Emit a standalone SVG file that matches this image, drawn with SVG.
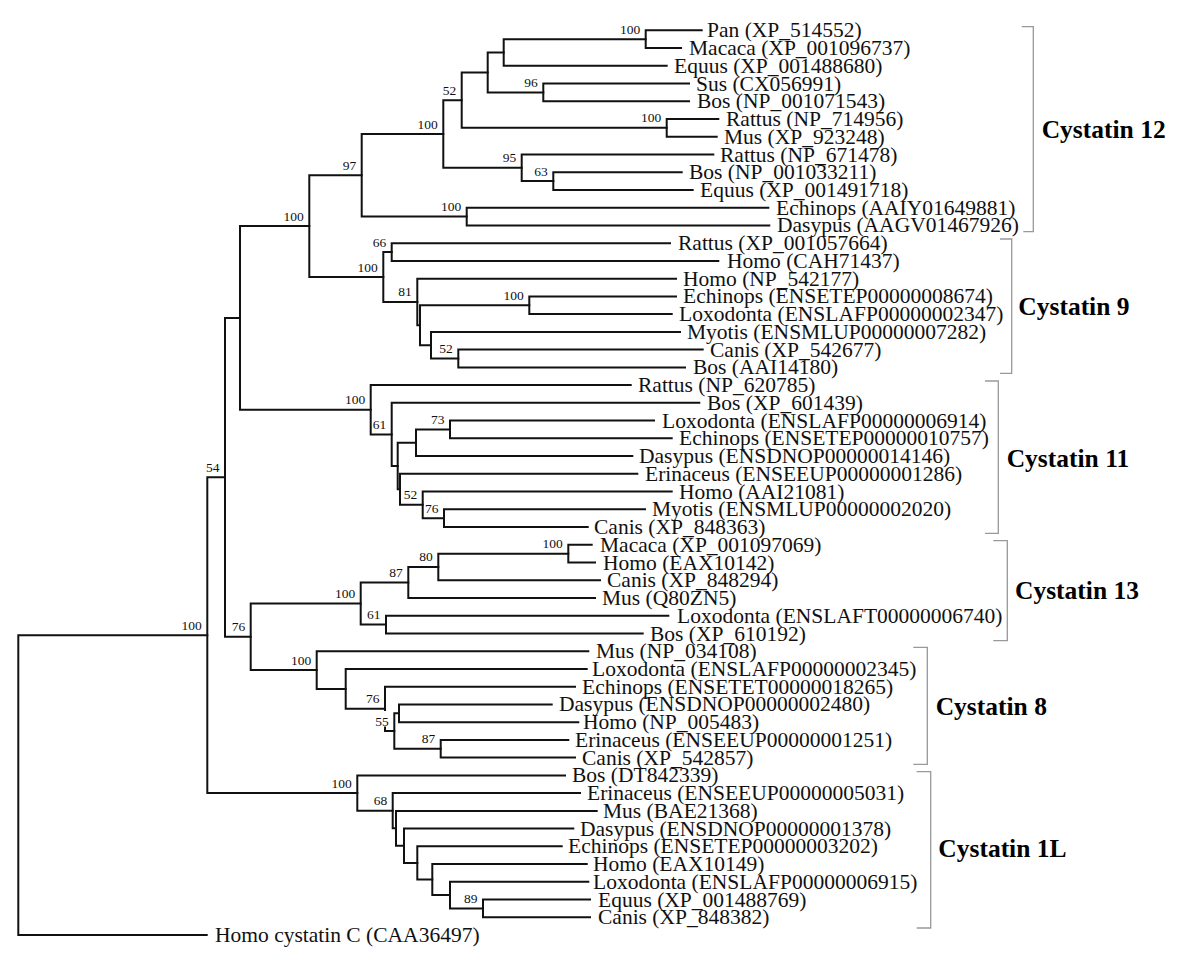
<svg xmlns="http://www.w3.org/2000/svg" width="1200" height="973" viewBox="0 0 1200 973">
<style>
.br{fill:none;stroke:#111;stroke-width:2;stroke-linecap:square}
.bk{fill:none;stroke:#999;stroke-width:1.3}
.lf{font-family:"Liberation Serif","Times New Roman",serif;font-size:21.5px;fill:#111}
.bs{font-family:"Liberation Serif","Times New Roman",serif;font-size:13.5px;fill:#111;text-anchor:end}
.cl{font-family:"Liberation Serif","Times New Roman",serif;font-size:25.5px;font-weight:bold;fill:#000}
</style>
<rect width="1200" height="973" fill="#fff"/>
<g id="connectors">
<path class="br" d="M645.7 30.3V48M645.7 30.3H701.7M645.7 48H681"/>
<path class="br" d="M503.7 39.15V65.8M503.7 39.15H645.7M503.7 65.8H666.7"/>
<path class="br" d="M543.3 83.5V101.3M543.3 83.5H689M543.3 101.3H689"/>
<path class="br" d="M487.7 52.5V92.4M487.7 52.5H503.7M487.7 92.4H543.3"/>
<path class="br" d="M666.7 119V136.7M666.7 119H718.3M666.7 136.7H716.7"/>
<path class="br" d="M461.7 72.45V127.85M461.7 72.45H487.7M461.7 127.85H666.7"/>
<path class="br" d="M553.3 172.2V190M553.3 172.2H681.7M553.3 190H692.7"/>
<path class="br" d="M521.7 154.5V181.1M521.7 154.5H713.3M521.7 181.1H553.3"/>
<path class="br" d="M443.3 100.15V167.8M443.3 100.15H461.7M443.3 167.8H521.7"/>
<path class="br" d="M466.7 207.7V225.4M466.7 207.7H768.3M466.7 225.4H769.3"/>
<path class="br" d="M361.7 133.98V216.55M361.7 133.98H443.3M361.7 216.55H466.7"/>
<path class="br" d="M391.7 243.2V260.9M391.7 243.2H670M391.7 260.9H718.3"/>
<path class="br" d="M529.3 296.4V314.1M529.3 296.4H676M529.3 314.1H671.7"/>
<path class="br" d="M458.3 349.6V367.4M458.3 349.6H702.7M458.3 367.4H685"/>
<path class="br" d="M431 331.9V358.5M431 331.9H680M431 358.5H458.3"/>
<path class="br" d="M420 305.25V345.2M420 305.25H529.3M420 345.2H431"/>
<path class="br" d="M417.3 278.7V325.2M417.3 278.7H676M417.3 325.2H420"/>
<path class="br" d="M383.3 252.05V301.95M383.3 252.05H391.7M383.3 301.95H417.3"/>
<path class="br" d="M309.3 175.27V277M309.3 175.27H361.7M309.3 277H383.3"/>
<path class="br" d="M450 420.6V438.3M450 420.6H654M450 438.3H671.7"/>
<path class="br" d="M416 429.45V456.1M416 429.45H450M416 456.1H632.3"/>
<path class="br" d="M444 509.3V527M444 509.3H645M444 527H587.7"/>
<path class="br" d="M422.7 491.5V518.15M422.7 491.5H671.7M422.7 518.15H444"/>
<path class="br" d="M400 473.8V504.8M400 473.8H637.3M400 504.8H422.7"/>
<path class="br" d="M397.7 442.8V489.3M397.7 442.8H416M397.7 489.3H400"/>
<path class="br" d="M391.7 402.8V466.05M391.7 402.8H699.3M391.7 466.05H397.7"/>
<path class="br" d="M370.7 385.1V434.4M370.7 385.1H630.7M370.7 434.4H391.7"/>
<path class="br" d="M240 226.1V409.75M240 226.1H309.3M240 409.75H370.7"/>
<path class="br" d="M568.3 544.8V562.5M568.3 544.8H591.7M568.3 562.5H595"/>
<path class="br" d="M438.3 553.65V580.2M438.3 553.65H568.3M438.3 580.2H600"/>
<path class="br" d="M408.3 566.9V598M408.3 566.9H438.3M408.3 598H595"/>
<path class="br" d="M386 615.7V633.5M386 615.7H668.3M386 633.5H642.7"/>
<path class="br" d="M360.7 582.45V624.6M360.7 582.45H408.3M360.7 624.6H386"/>
<path class="br" d="M440.7 739.9V757.6M440.7 739.9H568.3M440.7 757.6H575"/>
<path class="br" d="M399 704.4V722.2M399 704.4H551.7M399 722.2H578.3"/>
<path class="br" d="M394.3 713.3V748.75M394.3 713.3H399M394.3 748.75H440.7"/>
<path class="br" d="M385 686.7V710M385 727.5V731M385 686.7H575M385 731H394.3"/>
<path class="br" d="M345.7 668.9V708.85M345.7 668.9H586.7M345.7 708.85H385"/>
<path class="br" d="M316.7 651.2V688.9M316.7 651.2H588.3M316.7 688.9H345.7"/>
<path class="br" d="M250.7 603.5V670.05M250.7 603.5H360.7M250.7 670.05H316.7"/>
<path class="br" d="M225 317.9V636.8M225 317.9H240M225 636.8H250.7"/>
<path class="br" d="M483 899.6V917.3M483 899.6H590M483 917.3H590"/>
<path class="br" d="M450 881.8V908.45M450 881.8H588.3M450 908.45H483"/>
<path class="br" d="M432.3 864.1V895.1M432.3 864.1H586.7M432.3 895.1H450"/>
<path class="br" d="M417.3 846.3V879.6M417.3 846.3H561.7M417.3 879.6H432.3"/>
<path class="br" d="M404 828.6V862.95M404 828.6H573.3M404 862.95H417.3"/>
<path class="br" d="M396 810.9V845.8M396 810.9H596.7M396 845.8H404"/>
<path class="br" d="M392.7 793.1V828.35M392.7 793.1H580M392.7 828.35H396"/>
<path class="br" d="M357.3 775.4V810.7M357.3 775.4H565M357.3 810.7H392.7"/>
<path class="br" d="M207.3 477.35V793.05M207.3 477.35H225M207.3 793.05H357.3"/>
<path class="br" d="M18.3 635.2V935M18.3 635.2H207.3M18.3 935H206.7"/>
</g>
<g id="brackets">
<path class="bk" d="M1021.7 26.7H1033.3V231.7H1023.3"/>
<path class="bk" d="M1000 239H1011.7V373.3H1000"/>
<path class="bk" d="M985 381H998.3V533.3H985"/>
<path class="bk" d="M993.3 540.7H1007.3V640.7H993.3"/>
<path class="bk" d="M913.3 647.3H927.3V764.3H913.3"/>
<path class="bk" d="M916.7 771.7H930.7V928H916.7"/>
</g>
<g id="clade-labels">
<text class="cl" x="1041.7" y="137.5">Cystatin 12</text>
<text class="cl" x="1018.3" y="315">Cystatin 9</text>
<text class="cl" x="1006.7" y="467">Cystatin 11</text>
<text class="cl" x="1015" y="599">Cystatin 13</text>
<text class="cl" x="935.7" y="715">Cystatin 8</text>
<text class="cl" x="938.3" y="857">Cystatin 1L</text>
</g>
<g id="leaves">
<g id="leaf0"><text class="lf" x="707" y="37.3">Pan (XP_514552)</text></g>
<g id="leaf1"><text class="lf" x="689" y="55">Macaca (XP_001096737)</text></g>
<g id="leaf2"><text class="lf" x="674" y="72.8">Equus (XP_001488680)</text></g>
<g id="leaf3"><text class="lf" x="696" y="90.5">Sus (CX056991)</text></g>
<g id="leaf4"><text class="lf" x="697" y="108.3">Bos (NP_001071543)</text></g>
<g id="leaf5"><text class="lf" x="726" y="126">Rattus (NP_714956)</text></g>
<g id="leaf6"><text class="lf" x="724" y="143.7">Mus (XP_923248)</text></g>
<g id="leaf7"><text class="lf" x="720" y="161.5">Rattus (NP_671478)</text></g>
<g id="leaf8"><text class="lf" x="689" y="179.2">Bos (NP_001033211)</text></g>
<g id="leaf9"><text class="lf" x="700" y="197">Equus (XP_001491718)</text></g>
<g id="leaf10"><text class="lf" x="776" y="214.7">Echinops (AAIY01649881)</text></g>
<g id="leaf11"><text class="lf" x="777" y="232.4">Dasypus (AAGV01467926)</text></g>
<g id="leaf12"><text class="lf" x="678" y="250.2">Rattus (XP_001057664)</text></g>
<g id="leaf13"><text class="lf" x="727" y="267.9">Homo (CAH71437)</text></g>
<g id="leaf14"><text class="lf" x="683" y="285.7">Homo (NP_542177)</text></g>
<g id="leaf15"><text class="lf" x="683" y="303.4">Echinops (ENSETEP00000008674)</text></g>
<g id="leaf16"><text class="lf" x="679" y="321.1">Loxodonta (ENSLAFP00000002347)</text></g>
<g id="leaf17"><text class="lf" x="687" y="338.9">Myotis (ENSMLUP00000007282)</text></g>
<g id="leaf18"><text class="lf" x="710" y="356.6">Canis (XP_542677)</text></g>
<g id="leaf19"><text class="lf" x="693" y="374.4">Bos (AAI14180)</text></g>
<g id="leaf20"><text class="lf" x="638" y="392.1">Rattus (NP_620785)</text></g>
<g id="leaf21"><text class="lf" x="707" y="409.8">Bos (XP_601439)</text></g>
<g id="leaf22"><text class="lf" x="662" y="427.6">Loxodonta (ENSLAFP00000006914)</text></g>
<g id="leaf23"><text class="lf" x="679" y="445.3">Echinops (ENSETEP00000010757)</text></g>
<g id="leaf24"><text class="lf" x="639" y="463.1">Dasypus (ENSDNOP00000014146)</text></g>
<g id="leaf25"><text class="lf" x="645" y="480.8">Erinaceus (ENSEEUP00000001286)</text></g>
<g id="leaf26"><text class="lf" x="679" y="498.5">Homo (AAI21081)</text></g>
<g id="leaf27"><text class="lf" x="652" y="516.3">Myotis (ENSMLUP00000002020)</text></g>
<g id="leaf28"><text class="lf" x="594" y="534">Canis (XP_848363)</text></g>
<g id="leaf29"><text class="lf" x="600" y="551.8">Macaca (XP_001097069)</text></g>
<g id="leaf30"><text class="lf" x="603" y="569.5">Homo (EAX10142)</text></g>
<g id="leaf31"><text class="lf" x="607" y="587.2">Canis (XP_848294)</text></g>
<g id="leaf32"><text class="lf" x="602" y="605">Mus (Q80ZN5)</text></g>
<g id="leaf33"><text class="lf" x="677" y="622.7">Loxodonta (ENSLAFT00000006740)</text></g>
<g id="leaf34"><text class="lf" x="650" y="640.5">Bos (XP_610192)</text></g>
<g id="leaf35"><text class="lf" x="596" y="658.2">Mus (NP_034108)</text></g>
<g id="leaf36"><text class="lf" x="592" y="675.9">Loxodonta (ENSLAFP00000002345)</text></g>
<g id="leaf37"><text class="lf" x="582" y="693.7">Echinops (ENSETET00000018265)</text></g>
<g id="leaf38"><text class="lf" x="559" y="711.4">Dasypus (ENSDNOP00000002480)</text></g>
<g id="leaf39"><text class="lf" x="583" y="729.2">Homo (NP_005483)</text></g>
<g id="leaf40"><text class="lf" x="575" y="746.9">Erinaceus (ENSEEUP00000001251)</text></g>
<g id="leaf41"><text class="lf" x="582" y="764.6">Canis (XP_542857)</text></g>
<g id="leaf42"><text class="lf" x="572" y="782.4">Bos (DT842339)</text></g>
<g id="leaf43"><text class="lf" x="587" y="800.1">Erinaceus (ENSEEUP00000005031)</text></g>
<g id="leaf44"><text class="lf" x="603" y="817.9">Mus (BAE21368)</text></g>
<g id="leaf45"><text class="lf" x="580" y="835.6">Dasypus (ENSDNOP00000001378)</text></g>
<g id="leaf46"><text class="lf" x="568" y="853.3">Echinops (ENSETEP00000003202)</text></g>
<g id="leaf47"><text class="lf" x="593" y="871.1">Homo (EAX10149)</text></g>
<g id="leaf48"><text class="lf" x="593" y="888.8">Loxodonta (ENSLAFP00000006915)</text></g>
<g id="leaf49"><text class="lf" x="598" y="906.6">Equus (XP_001488769)</text></g>
<g id="leaf50"><text class="lf" x="598" y="924.3">Canis (XP_848382)</text></g>
<g id="leaf51"><text class="lf" x="215" y="942">Homo cystatin C (CAA36497)</text></g>
</g>
<g id="nodes">
<g id="n1"><text class="bs" x="640.2" y="33.6">100</text></g>
<g id="n3"><text class="bs" x="537.8" y="86.9">96</text></g>
<g id="n5"><text class="bs" x="661.2" y="122.3">100</text></g>
<g id="n6"><text class="bs" x="456.2" y="94.6">52</text></g>
<g id="n7"><text class="bs" x="547.8" y="175.6">63</text></g>
<g id="n8"><text class="bs" x="516.2" y="162.3">95</text></g>
<g id="n9"><text class="bs" x="437.8" y="128.5">100</text></g>
<g id="n10"><text class="bs" x="461.2" y="211">100</text></g>
<g id="n11"><text class="bs" x="356.2" y="169.8">97</text></g>
<g id="n12"><text class="bs" x="386.2" y="246.5">66</text></g>
<g id="n13"><text class="bs" x="523.8" y="299.7">100</text></g>
<g id="n14"><text class="bs" x="452.8" y="353">52</text></g>
<g id="n17"><text class="bs" x="411.8" y="296.4">81</text></g>
<g id="n18"><text class="bs" x="377.8" y="271.5">100</text></g>
<g id="n19"><text class="bs" x="303.8" y="220.6">100</text></g>
<g id="n20"><text class="bs" x="444.5" y="424">73</text></g>
<g id="n22"><text class="bs" x="438.5" y="512.6">76</text></g>
<g id="n23"><text class="bs" x="417.2" y="499.3">52</text></g>
<g id="n26"><text class="bs" x="386.2" y="428.9">61</text></g>
<g id="n27"><text class="bs" x="365.2" y="404.2">100</text></g>
<g id="n29"><text class="bs" x="562.8" y="548.1">100</text></g>
<g id="n30"><text class="bs" x="432.8" y="561.4">80</text></g>
<g id="n31"><text class="bs" x="402.8" y="577">87</text></g>
<g id="n32"><text class="bs" x="380.5" y="619.1">61</text></g>
<g id="n33"><text class="bs" x="355.2" y="598">100</text></g>
<g id="n34"><text class="bs" x="435.2" y="743.2">87</text></g>
<g id="n36"><text class="bs" x="388.8" y="725.5">55</text></g>
<g id="n37"><text class="bs" x="379.5" y="703.3">76</text></g>
<g id="n39"><text class="bs" x="311.2" y="664.5">100</text></g>
<g id="n40"><text class="bs" x="245.2" y="631.3">76</text></g>
<g id="n41"><text class="bs" x="219.5" y="471.8">54</text></g>
<g id="n42"><text class="bs" x="477.5" y="903">89</text></g>
<g id="n48"><text class="bs" x="387.2" y="805.2">68</text></g>
<g id="n49"><text class="bs" x="351.8" y="787.5">100</text></g>
<g id="n50"><text class="bs" x="201.8" y="629.7">100</text></g>
</g>
</svg>
